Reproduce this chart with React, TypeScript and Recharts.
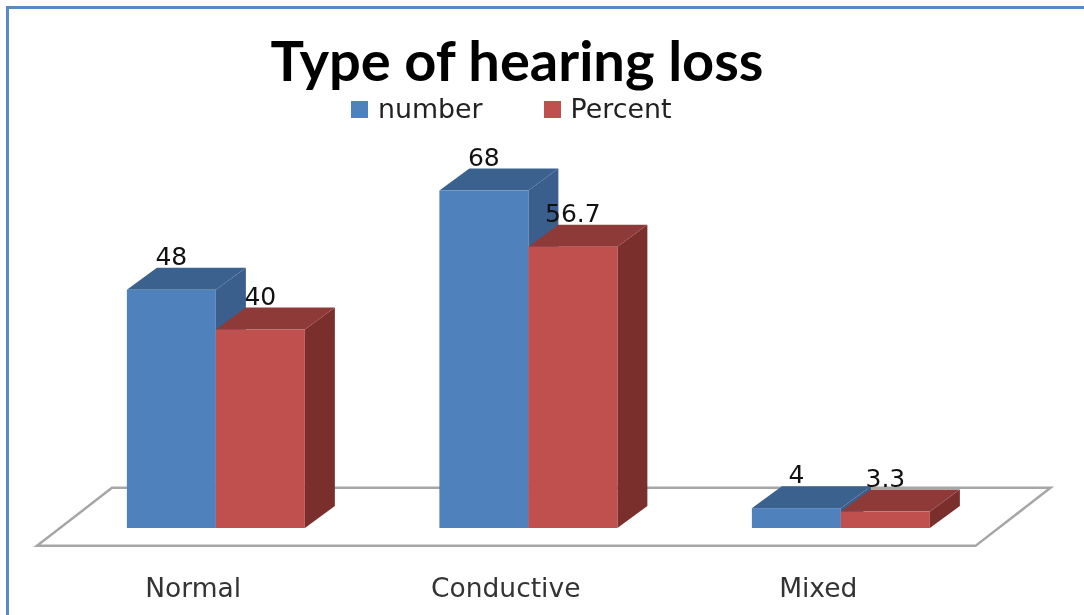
import React from 'react';
import { BarChart, Bar, XAxis, YAxis, Legend, LabelList, ReferenceArea } from 'recharts';

const categories = ['Normal', 'Conductive', 'Mixed'];
const numberValues = [48, 68, 4];
const percentValues = [40, 56.7, 3.3];
const chartTitle = 'Type of hearing loss';

const data = categories.map((name, i) => ({ name, number: numberValues[i], percent: percentValues[i] }));

const DX = 30;
const DY = 22;
const FONT = '"DejaVu Sans", sans-serif';

function Box3D(props: any) {
  const { x, y, width, height, front, top, side } = props;
  const r = x + width;
  const b = y + height;
  return (
    <g>
      <polygon points={`${r},${y} ${r + DX},${y - DY} ${r + DX},${b - DY} ${r},${b}`} fill={side} />
      <polygon points={`${x},${y} ${x + DX},${y - DY} ${r + DX},${y - DY} ${r},${y}`} fill={top} />
      <rect x={x} y={y} width={width} height={height} fill={front} />
    </g>
  );
}

function Floor(props: any) {
  const { x, y, width, height } = props;
  const b = y + height;
  const r = x + width;
  return (
    <polygon
      points={`${x - 23},${b} ${r - 22},${b} ${r + 53},${y} ${x + 52},${y}`}
      fill="#fff"
      stroke="#a6a6a6"
      strokeWidth={2.5}
    />
  );
}

function ValueLabel(props: any) {
  const { x, y, width, value } = props;
  return (
    <text x={x + width / 2} y={y - 25} textAnchor="middle" fontFamily={FONT} fontSize={25} fill="#111">
      {value}
    </text>
  );
}

function CategoryTick(props: any) {
  const { x, y, payload } = props;
  return (
    <text x={x - 23} y={y} dy={20} textAnchor="middle" fontFamily={FONT} fontSize={26.5} fill="#333">
      {payload.value}
    </text>
  );
}

function LegendBox({ payload }: any) {
  return (
    <div style={{ display: 'flex', justifyContent: 'flex-start', paddingLeft: 351, fontFamily: FONT, fontSize: 26.8, color: '#222', lineHeight: '30px' }}>
      {(payload || []).map((p: any, i: number) => (
        <div key={p.value} style={{ display: 'flex', alignItems: 'center', marginRight: i === 0 ? 61 : 0 }}>
          <span style={{ width: 17, height: 17, background: p.color, marginRight: 10, display: 'inline-block' }} />
          <span>{p.value}</span>
        </div>
      ))}
    </div>
  );
}

export default function App() {
  return (
    <div style={{ position: 'absolute', left: 0, top: 0, width: 1084, height: 615, background: '#fff', overflow: 'hidden', filter: 'blur(0.5px)' }}>
      <div style={{ position: 'absolute', left: 6, top: 6, width: 1100, height: 640, borderTop: '3px solid #5a8ac6', borderLeft: '3px solid #5a8ac6' }} />
      <div style={{ position: 'absolute', left: 0, top: 26, width: 1034, textAlign: 'center', fontFamily: 'Lato, sans-serif', fontWeight: 700, fontSize: 56, lineHeight: '68px', color: '#000' }}>
        {chartTitle}
      </div>
      <BarChart
        width={1084}
        height={615}
        data={data}
        barCategoryGap="21.4%"
        barGap={0}
        margin={{ top: 131, right: 86.5, bottom: 0, left: 60 }}
        style={{ position: 'absolute', left: 0, top: 0 }}
      >
        <XAxis
          dataKey="name"
          height={87}
          axisLine={false}
          tickLine={false}
          tick={<CategoryTick />}
          tickMargin={43}
          interval={0}
        />
        <YAxis hide domain={[0, 80]} width={0} />
        <ReferenceArea y1={-3.6} y2={8.1} ifOverflow="visible" shape={<Floor />} />
        <Legend
          layout="horizontal"
          verticalAlign="middle"
          align="center"
          itemSorter={null}
          wrapperStyle={{ left: 0, top: 94, width: 1084 }}
          content={<LegendBox />}
        />
        <Bar dataKey="number" name="number" fill="#4f81bd" isAnimationActive={false}
          shape={<Box3D front="#4f81bd" top="#3b628f" side="#3a5f8c" />}>
          <LabelList dataKey="number" content={<ValueLabel />} />
        </Bar>
        <Bar dataKey="percent" name="Percent" fill="#c0504d" isAnimationActive={false}
          shape={<Box3D front="#c0504d" top="#8e3a38" side="#7b2f2d" />}>
          <LabelList dataKey="percent" content={<ValueLabel />} />
        </Bar>
      </BarChart>
    </div>
  );
}
